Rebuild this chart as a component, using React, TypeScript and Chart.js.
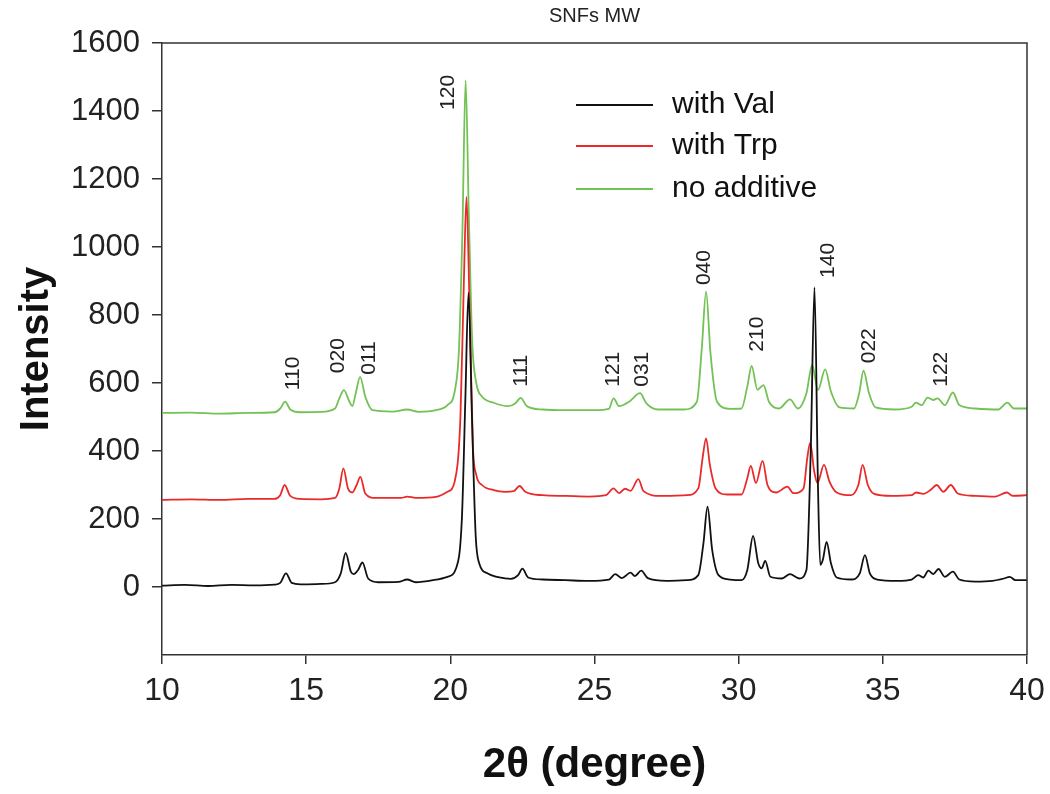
import React, { useEffect, useRef } from 'react';
import { Chart, registerables } from 'chart.js';

Chart.register(...registerables);

// ---- data: [2θ (degree), intensity] ----
const withValPoints: [number, number][] = [
  [10, 4], [10.8, 6], [11.6, 3], [12.4, 6], [13.2, 5], [13.9, 7], [14.1, 12], [14.3, 40], [14.5, 12],
  [14.8, 8], [15.5, 9], [16.0, 14], [16.2, 40], [16.37, 100], [16.55, 45], [16.65, 38], [16.8, 50],
  [16.95, 72], [17.15, 25], [17.5, 14], [18.2, 15], [18.5, 22], [18.8, 14], [19.4, 20], [19.9, 30],
  [20.2, 55], [20.4, 200], [20.52, 550], [20.63, 866], [20.75, 500], [20.88, 150], [21.0, 70],
  [21.3, 40], [21.7, 28], [22.1, 24], [22.35, 35], [22.5, 54], [22.7, 28], [23.2, 22], [24.0, 20],
  [24.8, 18], [25.5, 22], [25.72, 38], [25.95, 26], [26.25, 42], [26.4, 32], [26.62, 48], [26.85, 26],
  [27.5, 18], [28.2, 20], [28.6, 35], [28.78, 130], [28.92, 236], [29.08, 110], [29.3, 35], [29.7, 22],
  [30.1, 20], [30.3, 50], [30.5, 150], [30.68, 70], [30.8, 55], [30.92, 77], [31.1, 30], [31.5, 25],
  [31.78, 38], [32.1, 25], [32.35, 50], [32.5, 400], [32.63, 881], [32.75, 300], [32.83, 65],
  [32.92, 80], [33.05, 133], [33.2, 70], [33.4, 28], [33.9, 22], [34.2, 40], [34.38, 94], [34.55, 40],
  [34.8, 22], [35.5, 18], [36.0, 22], [36.23, 35], [36.4, 28], [36.58, 48], [36.75, 38], [36.93, 53],
  [37.15, 30], [37.43, 45], [37.65, 22], [38.2, 16], [38.8, 18], [39.2, 25], [39.4, 30], [39.6, 20],
  [40, 20],
];

const withTrpPoints: [number, number][] = [
  [10, 256], [11, 258], [12, 256], [13, 259], [13.9, 259], [14.1, 270], [14.25, 300], [14.45, 268],
  [14.8, 259], [15.5, 258], [16.0, 262], [16.15, 290], [16.29, 349], [16.45, 290], [16.6, 278],
  [16.75, 300], [16.88, 324], [17.05, 275], [17.4, 262], [18.3, 262], [18.5, 266], [18.8, 262],
  [19.5, 265], [19.9, 280], [20.15, 310], [20.35, 500], [20.47, 900], [20.56, 1147], [20.66, 850],
  [20.78, 420], [20.9, 330], [21.1, 300], [21.5, 285], [21.9, 280], [22.2, 282], [22.4, 297],
  [22.6, 280], [23.2, 270], [24, 268], [24.8, 266], [25.4, 270], [25.66, 290], [25.85, 276],
  [26.06, 289], [26.25, 283], [26.52, 317], [26.7, 282], [27.3, 268], [28.2, 270], [28.6, 290],
  [28.75, 380], [28.87, 437], [29.0, 360], [29.2, 290], [29.6, 272], [30.1, 272], [30.3, 320],
  [30.42, 356], [30.6, 306], [30.83, 371], [31.0, 300], [31.3, 278], [31.69, 295], [31.9, 276],
  [32.25, 290], [32.38, 380], [32.48, 424], [32.62, 340], [32.73, 306], [32.96, 359], [33.15, 310],
  [33.4, 278], [33.9, 270], [34.15, 300], [34.3, 359], [34.48, 300], [34.7, 274], [35.3, 268],
  [36.0, 270], [36.15, 278], [36.4, 274], [36.65, 285], [36.87, 300], [37.1, 280], [37.36, 300],
  [37.6, 275], [38.2, 268], [38.9, 266], [39.3, 278], [39.5, 268], [40, 270],
];

const noAdditivePoints: [number, number][] = [
  [10, 512], [11, 513], [12, 510], [13, 512], [13.9, 514], [14.1, 525], [14.27, 545], [14.45, 522],
  [14.8, 514], [15.5, 515], [16.0, 525], [16.15, 555], [16.31, 579], [16.5, 545], [16.6, 532],
  [16.72, 570], [16.87, 618], [17.05, 560], [17.3, 520], [18.0, 516], [18.5, 522], [18.9, 515],
  [19.5, 520], [19.9, 535], [20.15, 575], [20.3, 700], [20.42, 1050], [20.53, 1490], [20.64, 1100],
  [20.76, 720], [20.9, 600], [21.1, 560], [21.5, 542], [22.0, 532], [22.25, 540], [22.44, 556],
  [22.65, 532], [23.2, 522], [24, 520], [25.0, 520], [25.5, 524], [25.66, 555], [25.85, 532],
  [26.2, 545], [26.58, 570], [26.8, 540], [27.2, 522], [28.1, 522], [28.55, 545], [28.72, 700],
  [28.87, 869], [29.02, 690], [29.25, 545], [29.7, 524], [30.1, 525], [30.3, 590], [30.45, 650],
  [30.65, 580], [30.86, 594], [31.05, 545], [31.4, 525], [31.78, 552], [32.05, 525], [32.35, 570],
  [32.55, 653], [32.75, 579], [33.0, 640], [33.2, 575], [33.5, 528], [34.0, 525], [34.18, 570],
  [34.33, 636], [34.52, 570], [34.75, 528], [35.4, 522], [36.0, 530], [36.15, 542], [36.35, 535],
  [36.55, 557], [36.75, 550], [36.9, 555], [37.15, 535], [37.43, 572], [37.65, 535], [38.2, 525],
  [39.0, 522], [39.32, 542], [39.55, 525], [40, 525],
];

const seriesNames = ['with Val', 'with Trp', 'no additive'];
const seriesColors = ['#111111', '#ea2a2a', '#72c255'];

// Miller-index annotations: label, 2θ anchor, intensity anchor (start of the upright text)
const hklLabels = ['110', '020', '011', '120', '111', '121', '031', '040', '210', '140', '022', '122'];
const hklTheta = [14.54, 16.1, 17.17, 19.93, 22.47, 25.66, 26.65, 28.8, 30.66, 33.09, 34.52, 37.02];
const hklIntensity = [579, 629, 624, 1403, 589, 589, 589, 888, 692, 909, 658, 589];

const xMin = 10;
const xMax = 40;
const xStep = 5;
const yMin = -200;
const yMax = 1600;
const yStep = 200;

const chartTitle = 'SNFs MW';
const xTitle = '2θ (degree)';
const yTitle = 'Intensity';

const SANS = "'Liberation Sans', Arial, Helvetica, sans-serif";

const framePlugin = {
  id: 'frame',
  afterDraw(chart: any) {
    const { ctx, chartArea } = chart;
    ctx.save();
    ctx.strokeStyle = '#333';
    ctx.lineWidth = 1.5;
    ctx.beginPath();
    ctx.moveTo(chartArea.left, chartArea.top);
    ctx.lineTo(chartArea.right, chartArea.top);
    ctx.lineTo(chartArea.right, chartArea.bottom);
    ctx.stroke();
    // title
    ctx.fillStyle = '#222';
    ctx.font = `20px ${SANS}`;
    ctx.textAlign = 'center';
    ctx.textBaseline = 'middle';
    ctx.fillText(chartTitle, (chartArea.left + chartArea.right) / 2, 16);
    ctx.restore();
  },
};

const hklPlugin = {
  id: 'hkl',
  afterDatasetsDraw(chart: any) {
    const { ctx } = chart;
    const xs = chart.scales.x;
    const ys = chart.scales.y;
    ctx.save();
    ctx.fillStyle = '#222';
    ctx.font = `21px ${SANS}`;
    ctx.textAlign = 'left';
    ctx.textBaseline = 'middle';
    hklLabels.forEach((lab, i) => {
      ctx.save();
      ctx.translate(xs.getPixelForValue(hklTheta[i]), ys.getPixelForValue(hklIntensity[i]));
      ctx.rotate(-Math.PI / 2);
      ctx.fillText(lab, 0, 0);
      ctx.restore();
    });
    ctx.restore();
  },
};

const legendPlugin = {
  id: 'insideLegend',
  afterDraw(chart: any) {
    const { ctx } = chart;
    const rows = [105, 146, 189];
    ctx.save();
    ctx.font = `30px ${SANS}`;
    ctx.textAlign = 'left';
    ctx.textBaseline = 'middle';
    chart.data.datasets.forEach((ds: any, i: number) => {
      const y = rows[i];
      ctx.strokeStyle = ds.borderColor;
      ctx.lineWidth = 2;
      ctx.beginPath();
      ctx.moveTo(576, y);
      ctx.lineTo(653, y);
      ctx.stroke();
      ctx.fillStyle = '#111';
      ctx.fillText(ds.label, 672, y);
    });
    ctx.restore();
  },
};

export default function App() {
  const ref = useRef<HTMLCanvasElement | null>(null);

  useEffect(() => {
    if (!ref.current) return;
    const seriesPoints = [withValPoints, withTrpPoints, noAdditivePoints];
    const chart = new Chart(ref.current, {
      type: 'line',
      data: {
        datasets: seriesPoints.map((pts, i) => ({
          label: seriesNames[i],
          data: pts.map(([x, y]) => ({ x, y })),
          borderColor: seriesColors[i],
          backgroundColor: seriesColors[i],
          borderWidth: 1.8,
          pointRadius: 0,
          fill: false,
          cubicInterpolationMode: 'monotone' as const,
        })),
      },
      options: {
        animation: false,
        responsive: false,
        devicePixelRatio: 1,
        layout: { padding: { left: 0, right: 23, top: 43, bottom: 0 } },
        plugins: {
          legend: { display: false },
          tooltip: { enabled: false },
          title: { display: false },
        },
        scales: {
          x: {
            type: 'linear',
            min: xMin,
            max: xMax,
            ticks: {
              stepSize: xStep,
              color: '#222',
              font: { family: SANS, size: 32 },
              padding: 8,
              maxRotation: 0,
              autoSkip: false,
            },
            grid: { drawOnChartArea: false, drawTicks: true, tickLength: 9, color: '#333', lineWidth: 1.5 },
            border: { display: true, color: '#333', width: 1.5 },
            title: {
              display: true,
              text: xTitle,
              color: '#111',
              font: { family: SANS, size: 42, weight: 'bold' },
              padding: { top: 0, bottom: 3 },
            },
            afterFit: (s: any) => {
              s.height = 139;
              s.paddingLeft = 0;
              s.paddingRight = 0;
            },
          },
          y: {
            type: 'linear',
            min: yMin,
            max: yMax,
            ticks: {
              stepSize: yStep,
              color: '#222',
              font: { family: SANS, size: 31 },
              padding: 12,
              callback: (v: any) => (v === yMin ? null : String(v)),
            },
            grid: { drawOnChartArea: false, drawTicks: true, tickLength: 10, color: '#333', lineWidth: 1.5 },
            border: { display: true, color: '#333', width: 1.5 },
            title: {
              display: true,
              text: yTitle,
              color: '#111',
              font: { family: SANS, size: 40, weight: 'bold' },
              padding: { top: 13, bottom: 0 },
            },
            afterFit: (s: any) => {
              s.width = 162;
              s.paddingTop = 0;
              s.paddingBottom = 0;
            },
          },
        },
      },
      plugins: [framePlugin, hklPlugin, legendPlugin],
    } as any);
    return () => chart.destroy();
  }, []);

  return (
    <div style={{ position: 'absolute', left: 0, top: 0, width: 1050, height: 794 }}>
      <canvas ref={ref} width={1050} height={794} style={{ display: 'block' }} />
    </div>
  );
}
